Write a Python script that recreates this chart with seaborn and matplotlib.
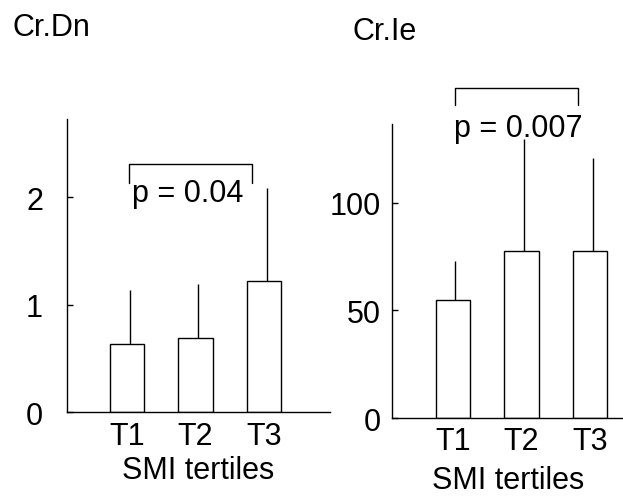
import matplotlib
matplotlib.use("Agg")
import matplotlib.pyplot as plt
import seaborn as sns
import pandas as pd

categories = ["T1", "T2", "T3"]
dn_means = [0.64, 0.69, 1.22]
dn_sd = [0.50, 0.50, 0.87]
ie_means = [54.8, 77.4, 77.4]
ie_sd = [18.2, 52.3, 43.4]
dn_p = "p = 0.04"
ie_p = "p = 0.007"
xlabel = "SMI tertiles"

sns.set_theme(style="white")
plt.rcParams["font.family"] = ["Liberation Sans", "DejaVu Sans"]
plt.rcParams["text.color"] = "black"
plt.rcParams["xtick.color"] = "black"
plt.rcParams["ytick.color"] = "black"
plt.rcParams["axes.labelcolor"] = "black"

fig = plt.figure(figsize=(6.23, 5.02), dpi=100)
axL = fig.add_axes([0.107, 0.1767, 0.4226, 0.5843])
axR = fig.add_axes([0.6297, 0.1653, 0.3703, 0.5857])

FS = 22


def panel(ax, means, sd, ylim, yticks, ypad, bracket, ptext, ptext_pos, lpad):
    df = pd.DataFrame({"cat": categories, "val": means})
    sns.barplot(data=df, x="cat", y="val", color="white", edgecolor="black",
                linewidth=1.0, width=0.5, errorbar=None, ax=ax, saturation=1)
    for i, (m, s) in enumerate(zip(means, sd)):
        ax.vlines(i + 0.04, m, m + s, color="black", linewidth=1.0)
    ax.set_ylim(*ylim)
    ax.set_yticks(yticks)
    ax.set_yticklabels([str(t) for t in yticks])
    for sp in ["top", "right"]:
        ax.spines[sp].set_visible(False)
    for sp in ["left", "bottom"]:
        ax.spines[sp].set_color("black")
        ax.spines[sp].set_linewidth(1.0)
    ax.tick_params(axis="y", direction="in", length=4, width=1.0, color="black",
                   labelsize=FS, pad=ypad, left=True, labelcolor="black")
    ax.tick_params(axis="x", length=0, labelsize=FS, pad=6, labelcolor="black")
    ax.set_xlabel(xlabel, fontsize=FS, labelpad=lpad, color="black")
    ax.set_ylabel("")
    x0, x1, yh, yl = bracket
    ax.plot([x0, x0, x1, x1], [yl, yh, yh, yl], color="black", linewidth=1.0,
            clip_on=False)
    ax.text(ptext_pos[0], ptext_pos[1], ptext, fontsize=FS, ha="center",
            va="baseline", color="black")


panel(axL, dn_means, dn_sd, (0, 2.73), [0, 1, 2], 17,
      (0.034, 1.82, 2.315, 2.13), dn_p, (0.89, 1.97), 3)
axL.set_xlim(-0.88, 2.96)
panel(axR, ie_means, ie_sd, (0, 136.6), [0, 50, 100], 8,
      (0.034, 1.83, 153.4, 145.2), ie_p, (0.95, 131.0), 6)
axR.set_xlim(-0.88, 2.48)

fig.text(12.7 / 623, 1 - 28 / 502, "Cr.Dn", fontsize=FS, ha="left", va="center")
fig.text(352.7 / 623, 1 - 32 / 502, "Cr.Ie", fontsize=FS, ha="left", va="center")

fig.savefig("out.png", dpi=100)
